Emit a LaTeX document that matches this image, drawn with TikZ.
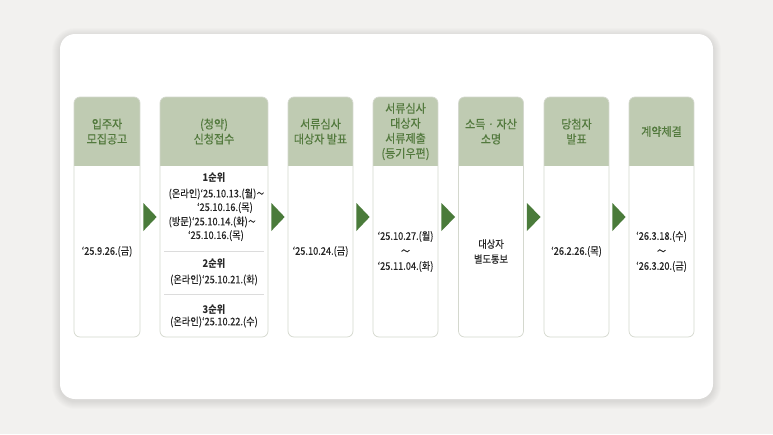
\documentclass[tikz,border=0pt]{standalone}
\usepackage{fontspec}
\newfontfamily\krhead[FakeStretch=0.92,FakeBold=0.5]{Noto Sans CJK KR}
\newfontfamily\krbody[FakeStretch=0.88,FakeBold=0.2]{Noto Sans CJK KR}
\newfontfamily\krbold[FakeStretch=0.88]{Noto Sans CJK KR}
\usetikzlibrary{calc}
\definecolor{bgcol}{HTML}{F2F1EF}
\definecolor{hdrcol}{HTML}{BFCBB2}
\definecolor{hdrtxt}{HTML}{52793D}
\definecolor{bordercol}{HTML}{D4D8CE}
\definecolor{arrowcol}{HTML}{4A7B3A}
\definecolor{bodytxt}{HTML}{262626}
\definecolor{sepcol}{HTML}{DCDCDC}
\newcommand\mytilde{\kern0.5pt\scalebox{0.8}[1]{～}}
\tikzset{
  hdrtext/.style={text=hdrtxt, align=center, inner sep=0pt, font=\krhead\fontsize{12}{15}\selectfont},
  bodytext/.style={text=bodytxt, align=center, inner sep=0pt, font=\krbody\fontsize{10.5}{15}\selectfont},
  rankhead/.style={text=bodytxt, align=center, inner sep=0pt, font=\krbold\bfseries\fontsize{10.5}{15}\selectfont},
  frame/.style={draw=bordercol, line width=0.7pt, rounded corners=6pt, inner sep=0pt, minimum height=240pt},
  flowarrow/.style={fill=arrowcol},
  sepline/.style={draw=sepcol, line width=0.6pt}
}
\newcommand\mystage[5]{%
  \begin{scope}
    \clip[rounded corners=6pt] (#2,97) rectangle (#3,337);
    \fill[white] (#2,97) rectangle (#3,337);
    \fill[hdrcol] (#2,97) rectangle (#3,166);
  \end{scope}
  \node[frame, minimum width={(#3-#2)*1pt}] (#1) at ({(#2+#3)/2},217) {};
  \node[hdrtext] (#1h) at ({(#2+#3)/2},131.5) {#4};
  \node[bodytext] (#1b) at ({(#2+#3)/2},251.5) {#5};
}
\newcommand\myarrow[2]{%
  \fill[flowarrow] ($(#1.east)+(3,-14)$) -- ($(#1.east)+(3,14)$) -- ($(#2.west)+(-3,0)$) -- cycle;
}
\begin{document}
\begin{tikzpicture}[x=1pt,y=-1pt]
\useasboundingbox (0,0) rectangle (773,434);
\fill[bgcol] (0,0) rectangle (773,434);
\foreach \i in {1,...,8}{
  \fill[black, opacity=0.01, rounded corners={(15+\i)*1pt}] (60-\i,34-\i+2) rectangle (713+\i,399+\i+2);
}
\fill[white, rounded corners=15pt] (60,34) rectangle (713,399);

\mystage{s1}{74}{140}{입주자\\모집공고}{‘25.9.26.(금)}
\mystage{s2}{160}{268}{(청약)\\신청접수}{}
\mystage{s3}{288}{353}{서류심사\\대상자 발표}{‘25.10.24.(금)}
\mystage{s4}{373}{438}{서류심사\\대상자\\서류제출\\(등기우편)}{‘25.10.27.(월)\\～\\‘25.11.04.(화)}
\mystage{s5}{458.5}{523.5}{소득 · 자산\\소명}{대상자\\별도통보}
\mystage{s6}{544}{609}{당첨자\\발표}{‘26.2.26.(목)}
\mystage{s7}{629}{694}{계약체결}{‘26.3.18.(수)\\～\\‘26.3.20.(금)}

% box 2 details
\node[rankhead] (p1) at (214,178) {1순위};
\node[bodytext, anchor=west] (p1a) at (168.5,194) {(온라인)‘25.10.13.(월)\mytilde};
\node[bodytext, anchor=east] (p1b) at (253,207.7) {‘25.10.16.(목)};
\node[bodytext, anchor=west] (p1c) at (168.5,222) {(방문)‘25.10.14.(화)\mytilde};
\node[bodytext, anchor=east] (p1d) at (244,235.7) {‘25.10.16.(목)};
\coordinate (sep1l) at (164,251);
\coordinate (sep1r) at (264,251);
\draw[sepline] (sep1l) -- (sep1r);
\node[rankhead] (p2) at (214,263.7) {2순위};
\node[bodytext] (p2a) at (214,280) {(온라인)‘25.10.21.(화)};
\coordinate (sep2l) at (164,294);
\coordinate (sep2r) at (264,294);
\draw[sepline] (sep2l) -- (sep2r);
\node[rankhead] (p3) at (214,310) {3순위};
\node[bodytext] (p3a) at (214,322) {(온라인)‘25.10.22.(수)};

\myarrow{s1}{s2}
\myarrow{s2}{s3}
\myarrow{s3}{s4}
\myarrow{s4}{s5}
\myarrow{s5}{s6}
\myarrow{s6}{s7}
\end{tikzpicture}
\end{document}
